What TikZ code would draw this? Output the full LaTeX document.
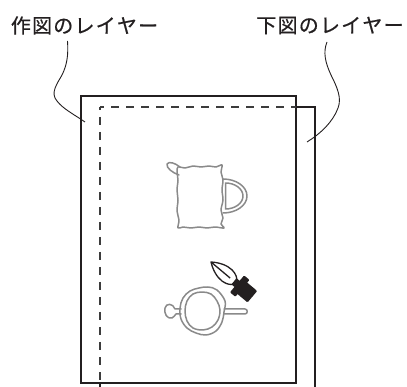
\documentclass[tikz,border=0pt]{standalone}
\usepackage{fontspec}
\newfontfamily\jpfont[FakeBold=0.6]{Noto Sans CJK JP}
\definecolor{ink}{HTML}{231F20}
\definecolor{sketch}{HTML}{8A8A8A}
\definecolor{hidden}{HTML}{3C3C3C}
\tikzset{
  sheet/.style={draw=ink, line width=2pt},
  hiddenedge/.style={draw=hidden, line width=1.5pt, dash pattern=on 8pt off 7pt},
  leader/.style={draw=ink, line width=0.9pt},
  label/.style={font=\jpfont\fontsize{20}{22}\selectfont, text=ink, inner sep=0pt},
  pencil/.style={draw=sketch, line width=1.5pt, line join=round, line cap=round},
  nib/.style={draw=ink, line width=1.3pt, line join=round},
}
\newcommand\gap{\kern1.2pt}
\begin{document}
\begin{tikzpicture}[x=1pt, y=-1pt]
\useasboundingbox (0,0) rectangle (407,387);

% lower layer sheet, then the working layer sheet on top of it
\draw[sheet] (100,107) rectangle (315,400);
\draw[sheet, fill=white] (81,96) rectangle (296,383);
% edges of the lower sheet seen through the working sheet
\draw[hiddenedge, dash phase=4pt] (100,107) -- (296,107);
\draw[hiddenedge, dash phase=5pt] (100,107) -- (100,383);

% labels
\node[label] (lblDraw) at (84.5,25.5) {作\gap 図\gap の\gap レ\gap イ\gap ヤ\gap ー};
\node[label] (lblBase) at (330,25.5) {下\gap 図\gap の\gap レ\gap イ\gap ヤ\gap ー};

\coordinate (lA1) at (67.5,41);
\coordinate (lA2) at (85,122);
\coordinate (lB1) at (327,42);
\coordinate (lB2) at (307,142);

\draw[leader] (lA1) .. controls (68.5,55) and (67,65) .. (62,75)
  .. controls (57,84) and (50,93) .. (57,101)
  .. controls (63,109) and (75,115) .. (lA2);
\draw[leader] (lB1) .. controls (323,52) and (325,62) .. (331,75)
  .. controls (337,87) and (342,98) .. (338,108)
  .. controls (333,122) and (320,134) .. (lB2);

% jug (sketch on the lower layer)
\draw[pencil] plot[smooth cycle, tension=0.55] coordinates {
  (178,167) (185,168) (193,166) (201,167) (209,166) (216,167) (222,165)
  (221,172) (223,180) (222,190) (223,200) (221,210) (223,218) (221,224)
  (224,228) (215,227) (207,228) (199,227) (191,228) (183,227) (178,228)
  (179,220) (177,211) (178,200) (177,190) (178,180) (177,172)};
\draw[pencil] (180,167) .. controls (175,163) and (169,161) .. (167,164)
  .. controls (166,168) and (173,173) .. (179,175);
\draw[pencil] (223,179) .. controls (236.3,179) and (247,186.6) .. (247,196)
  .. controls (247,205.4) and (236.3,213) .. (223,213);
\draw[pencil] (225.5,183) .. controls (235,183) and (243,188.8) .. (243,196)
  .. controls (243,203.2) and (235,209) .. (225.5,209) -- cycle;

% teapot seen from above (sketch on the lower layer)
\draw[pencil] plot[smooth cycle, tension=0.6] coordinates {
  (225,301) (224,312) (222,322) (216,331) (206,335) (196,333) (187,328)
  (181,319) (180,308) (183,298) (190,291) (199,288) (208,287) (217,290)};
\draw[pencil] plot[smooth cycle, tension=0.6] coordinates {
  (220,310) (218,320) (212,327) (203,330) (193,328) (187,321) (185,311)
  (187,301) (193,294) (202,292) (211,294) (217,301)};
\draw[pencil] (181,309) -- (175,309) .. controls (173,303) and (166,303) .. (165,308)
  .. controls (164,314) and (167,319) .. (172,318)
  .. controls (174,317) and (175,315) .. (176,314) -- (181,314);
\draw[pencil] (224,309) -- (245,309) .. controls (248,309) and (248,314) .. (245,314) -- (224,314);

% pen nib tracing on the working layer
\begin{scope}[shift={(211,262)}, rotate=-40]
  \draw[nib, fill=white] (0,0) .. controls (6,4.5) and (14,8) .. (21,7.5)
    .. controls (27,7) and (30,4.5) .. (31,3) -- (31,-3)
    .. controls (30,-4.5) and (27,-7) .. (21,-7.5)
    .. controls (14,-8) and (6,-4.5) .. cycle;
  \draw[nib] (1,0) -- (25,0);
  \fill[ink, rounded corners=0.8pt] (30,-4) rectangle (36,4);
  \fill[ink, rounded corners=1pt] (34,-11) rectangle (41,11);
  \fill[ink, rounded corners=1pt] (39,-7.5) rectangle (54,7.5);
\end{scope}
\end{tikzpicture}
\end{document}
